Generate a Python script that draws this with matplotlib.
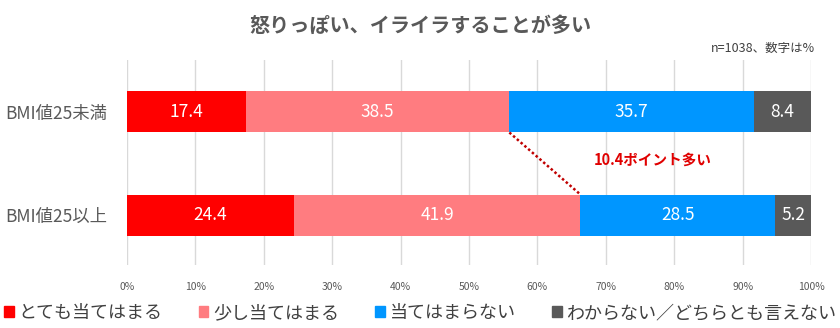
import matplotlib
matplotlib.use('Agg')
import matplotlib.pyplot as plt
from matplotlib.patches import Patch

plt.rcParams['font.family'] = ['Noto Sans CJK JP', 'DejaVu Sans']

groups = ['BMI値25未満', 'BMI値25以上']
series = ['とても当てはまる', '少し当てはまる', '当てはまらない', 'わからない／どちらとも言えない']
values = [
    [17.4, 24.4],
    [38.5, 41.9],
    [35.7, 28.5],
    [8.4, 5.2],
]
colors = ['#FF0000', '#FF7C80', '#0096FF', '#595959']
ticks = [0, 10, 20, 30, 40, 50, 60, 70, 80, 90, 100]
title = '怒りっぽい、イライラすることが多い'
note = 'n=1038、数字は%'
diff_label = '10.4ポイント多い'

fig = plt.figure(figsize=(8.4, 3.28), dpi=100)
ax = fig.add_axes([127 / 840, 1 - 265 / 328, 684 / 840, 205 / 328])

ypos = list(range(len(groups)))
left = [0.0] * len(groups)
for vals, col, name in zip(values, colors, series):
    ax.barh(ypos, vals, left=left, height=0.40, color=col, label=name, zorder=2)
    for y, v, l in zip(ypos, vals, left):
        ax.text(l + v / 2, y, f'{v:.1f}', ha='center', va='center',
                color='white', fontsize=12.5, zorder=3)
    left = [a + b for a, b in zip(left, vals)]

# connector between the two "当てはまる" totals
top_sum = values[0][0] + values[1][0]
bot_sum = values[0][1] + values[1][1]
ax.plot([top_sum, bot_sum], [0.2, 0.8], color='#C00000', ls=(0, (1, 1)), lw=1.8, zorder=4)
ax.text(68.2, 0.46, diff_label, color='#E00000', fontsize=10.5, fontweight='bold',
        ha='left', va='center')

ax.set_xlim(0, 100)
ax.set_ylim(1.48, -0.5)
ax.set_xticks(ticks)
ax.set_xticklabels([f'{t}%' for t in ticks], fontsize=7.5, color='#595959')
ax.set_yticks(ypos)
ax.set_yticklabels(groups, fontsize=12.5, color='#595959')
ax.tick_params(axis='y', length=0, pad=14)
ax.tick_params(axis='x', length=0, pad=12)
ax.grid(axis='x', color='#D9D9D9', lw=1, zorder=0)
for s in ax.spines.values():
    s.set_visible(False)

fig.text(0.5, 1 - 25 / 328, title, ha='center', va='center', fontsize=14.5,
         fontweight='bold', color='#595959')
fig.text(815 / 840, 1 - 48 / 328, note, ha='right', va='center', fontsize=9, color='#404040')

handles = [Patch(color=c) for c in colors]
fig.legend(handles, series, loc='center', bbox_to_anchor=(0.5, 1 - 313 / 328), ncol=4,
           frameon=False, fontsize=13, handlelength=0.55, handleheight=0.55,
           handletextpad=0.25, columnspacing=2.0, labelcolor='#404040')

fig.savefig('out.png', dpi=100)
